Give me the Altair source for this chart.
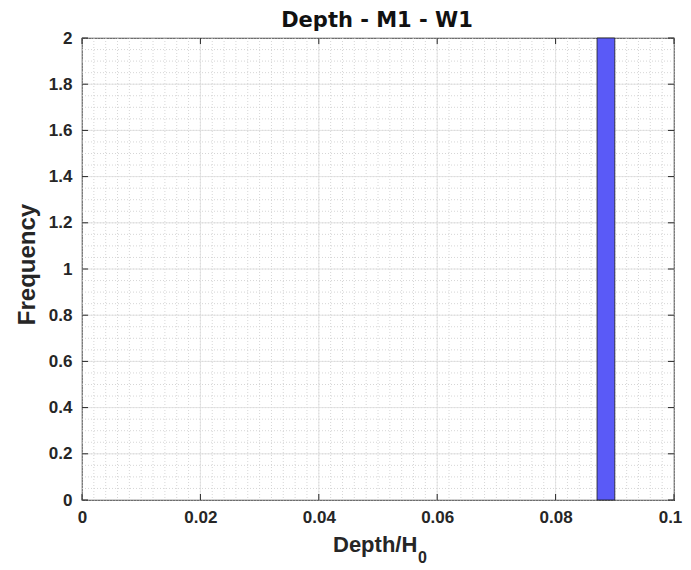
import altair as alt
import pandas as pd

# data
bin_start = [0.087]
bin_end = [0.090]
counts = [2]
x_major = [0, 0.02, 0.04, 0.06, 0.08, 0.1]
y_major = [0, 0.2, 0.4, 0.6, 0.8, 1.0, 1.2, 1.4, 1.6, 1.8, 2.0]
x_minor = [round(i * 0.002, 3) for i in range(51)]
y_minor = [round(i * 0.05, 2) for i in range(41)]
title_text = "Depth - M1 - W1"

W, H = 592, 462
FONT = "Liberation Sans"
TXT = "#262626"

bars = pd.DataFrame({"x0": bin_start, "x1": bin_end, "n": counts})
xs = alt.Scale(domain=[0, 0.1], nice=False, zero=False)
ys = alt.Scale(domain=[0, 2], nice=False)

xaxis = alt.Axis(values=x_major, format="~g", title=None, grid=False, labelFlush=False,
                 ticks=False, domain=False, labelPadding=9,
                 labelOffset={"condition": {"test": "datum.value > 0.099", "value": -4}, "value": 0})
yaxis = alt.Axis(values=y_major, format="~g", title="Frequency", grid=False,
                 ticks=False, domain=False, labelPadding=10, titlePadding=9, titleY=226)

xminor_df = pd.DataFrame({"v": x_minor})
yminor_df = pd.DataFrame({"v": y_minor})
xmajor_df = pd.DataFrame({"v": x_major})
ymajor_df = pd.DataFrame({"v": y_major})

def X(f):
    return alt.X(f, scale=xs, axis=xaxis)

def Y(f):
    return alt.Y(f, scale=ys, axis=yaxis)

minor_x = alt.Chart(xminor_df).mark_rule(color="#cccccc", strokeDash=[1, 2], strokeWidth=0.8).encode(
    x=X("v:Q"))
minor_y = alt.Chart(yminor_df).mark_rule(color="#cccccc", strokeDash=[1, 2], strokeWidth=0.8).encode(
    y=Y("v:Q"))
major_x = alt.Chart(xmajor_df).mark_rule(color="#dddddd", strokeWidth=0.8).encode(
    x=X("v:Q"))
major_y = alt.Chart(ymajor_df).mark_rule(color="#dddddd", strokeWidth=0.8).encode(
    y=Y("v:Q"))

bar = alt.Chart(bars).mark_rect(color="#5a5af7", stroke="#1a1a1a", strokeWidth=0.8).encode(
    x=X("x0:Q"),
    x2="x1:Q",
    y=Y("n:Q"),
    y2=alt.datum(0),
)

# inward ticks on all four sides
tick_len = 6
tb = alt.Chart(xmajor_df).mark_rule(color=TXT, strokeWidth=1).encode(
    x=X("v:Q"), y=alt.value(H), y2=alt.value(H - tick_len))
tt = alt.Chart(xmajor_df).mark_rule(color=TXT, strokeWidth=1).encode(
    x=X("v:Q"), y=alt.value(0), y2=alt.value(tick_len))
tl = alt.Chart(ymajor_df).mark_rule(color=TXT, strokeWidth=1).encode(
    y=Y("v:Q"), x=alt.value(0), x2=alt.value(tick_len))
tr = alt.Chart(ymajor_df).mark_rule(color=TXT, strokeWidth=1).encode(
    y=Y("v:Q"), x=alt.value(W), x2=alt.value(W - tick_len))

# chart title
ttl = alt.Chart(pd.DataFrame({"t": [title_text]})).mark_text(
    font="DejaVu Sans", fontSize=21, fontWeight="bold", color="#111111", align="center",
    baseline="alphabetic"
).encode(text="t:N", x=alt.value(W / 2 - 1), y=alt.value(-11))

# x-axis title with subscript
xt_main = alt.Chart(pd.DataFrame({"t": ["Depth/H"]})).mark_text(
    font=FONT, fontSize=22, fontWeight="bold", color=TXT, align="left", baseline="alphabetic"
).encode(text="t:N", x=alt.value(251), y=alt.value(514))
xt_sub = alt.Chart(pd.DataFrame({"t": ["0"]})).mark_text(
    font=FONT, fontSize=16, fontWeight="bold", color=TXT, align="left", baseline="alphabetic"
).encode(text="t:N", x=alt.value(336), y=alt.value(525))

chart = alt.layer(minor_x, minor_y, major_x, major_y, bar, tb, tt, tl, tr, ttl, xt_main, xt_sub).properties(
    width=W, height=H,
    background="white",
    autosize=alt.AutoSizeParams(type="none"),
    padding={"left": 74, "top": 30, "right": 9, "bottom": 70},
).configure_view(stroke="#262626", strokeWidth=1.2).configure_axis(
    labelFont=FONT, labelFontSize=17, labelFontWeight="bold", labelColor=TXT,
    titleFont=FONT, titleFontSize=24, titleFontWeight="bold", titleColor=TXT,
)

chart.save("out.html", embed_options={"renderer": "svg", "actions": False})
